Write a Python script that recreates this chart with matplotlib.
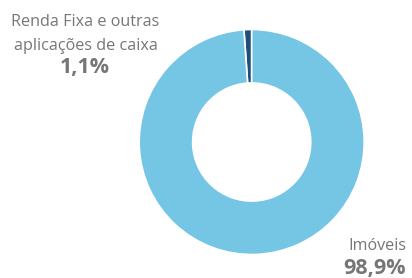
import matplotlib
matplotlib.use('Agg')
import matplotlib.pyplot as plt

# data
label_lines = ['Renda Fixa e outras', 'aplicações de caixa']
label_main = 'Imóveis'
values = [1.1, 98.9]
pct_labels = ['1,1%', '98,9%']
colors = ['#1f4e79', '#74c6e4']

W, H = 412, 278
fig = plt.figure(figsize=(W / 100, H / 100), dpi=100)
plt.rcParams['font.family'] = ['Open Sans', 'DejaVu Sans']

# donut centred at (252, 142) px, outer radius ~112.5 px
cx, cy, r = 251.7, 142, 112.5
ax = fig.add_axes([(cx - r) / W, (H - cy - r) / H, 2 * r / W, 2 * r / H])
ax.pie(values, colors=colors, startangle=90, counterclock=True,
       wedgeprops=dict(width=0.475, edgecolor='white', linewidth=1.2))
ax.set_xlim(-1, 1)
ax.set_ylim(-1, 1)
ax.set_aspect('auto')
ax.axis('off')

grey = '#767676'
fig.text(85.5 / W, 1 - 21.5 / H, label_lines[0], ha='center', va='center',
         fontsize=11.6, color=grey)
fig.text(85.5 / W, 1 - 45.5 / H, label_lines[1], ha='center', va='center',
         fontsize=11.6, color=grey)
fig.text(85 / W, 1 - 67.5 / H, pct_labels[0], ha='center', va='center',
         fontsize=15.5, fontweight='bold', color=grey)
fig.text(377 / W, 1 - 245.5 / H, label_main, ha='center', va='center',
         fontsize=11.6, color=grey)
fig.text(375 / W, 1 - 268.5 / H, pct_labels[1], ha='center', va='center',
         fontsize=15.5, fontweight='bold', color=grey)

fig.savefig('out.png', dpi=100)
